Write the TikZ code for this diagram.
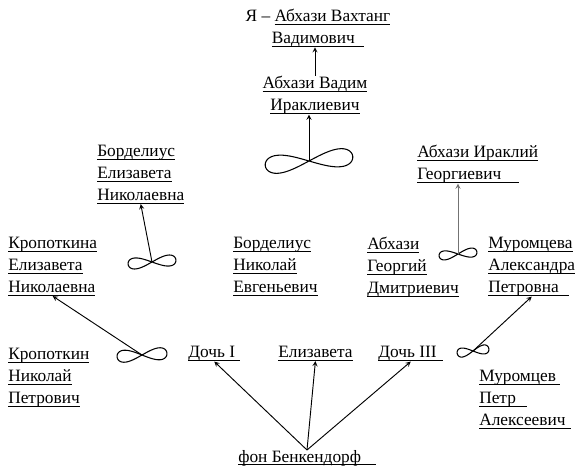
\documentclass[tikz,border=0pt]{standalone}
\usepackage{fontspec}
\setmainfont{Liberation Serif}
\usetikzlibrary{arrows, positioning, calc}
\newsavebox{\ulinebox}
\newcommand{\uln}[1]{\sbox{\ulinebox}{#1}\rlap{\rule[-2.4pt]{\wd\ulinebox}{0.9pt}}\usebox{\ulinebox}}

\begin{document}
\begin{tikzpicture}[
    x=0.75pt, y=-0.75pt,
    person/.style={anchor=north west, align=left, inner sep=0pt,
                   font=\fontsize{13}{16.5}\selectfont},
    arrow/.style={->, >=stealth, line width=0.7pt},
    wed/.style={line width=0.8pt}
]
    \useasboundingbox (0,0) rectangle (581,474);

    % Top
    \node[person, anchor=north, align=center] (vakhtang) at (318,9) {Я – \uln{Абхази Вахтанг}\\\uln{Вадимович\kern7pt}};
    \node[person, anchor=north, align=center] (vadim) at (315,76) {\uln{Абхази Вадим}\\\uln{Ираклиевич}};

    % Row 1
    \node[person] (bordeliza) at (97,145) {\uln{Борделиус}\\\uln{Елизавета}\\\uln{Николаевна}};
    \node[person] (irakliy) at (417,145) {\uln{Абхази Ираклий}\\\uln{Георгиевич\kern13pt}};

    % Row 2
    \node[person] (kropeliza) at (8,237) {\uln{Кропоткина}\\\uln{Елизавета}\\\uln{Николаевна}};
    \node[person] (bordnik) at (233,237) {\uln{Борделиус}\\\uln{Николай}\\\uln{Евгеньевич}};
    \node[person] (georgiy) at (367,237) {\uln{Абхази}\\\uln{Георгий}\\\uln{Дмитриевич}};
    \node[person] (muromtseva) at (488,237) {\uln{Муромцева}\\\uln{Александра}\\\uln{Петровна\kern8pt}};

    % Row 3
    \node[person] (kropnik) at (8,348) {\uln{Кропоткин}\\\uln{Николай}\\\uln{Петрович}};
    \node[person] (doch1) at (188,346) {\uln{Дочь I\kern4pt}};
    \node[person] (eliza) at (278,346) {\uln{Елизавета}};
    \node[person] (doch3) at (378,346) {\uln{Дочь III\kern5pt}};
    \node[person] (muromtsev) at (479,370) {\uln{Муромцев\kern3pt}\\\uln{Петр\kern8pt}\\\uln{Алексеевич\kern4pt}};

    % Bottom
    \node[person, anchor=north] (benk) at (307,450) {\uln{фон Бенкендорф\kern11pt}};

    % Marriages
    \coordinate (mtop) at (309,161);
    \coordinate (mbord) at (152,262);
    \coordinate (mgeo) at (458,254);
    \coordinate (mkrop) at (142,355);
    \coordinate (mmur) at (473,351);
    \foreach \m/\a/\b/\r in {mtop/44/18/6, mbord/24/11/5, mgeo/19/9/6, mkrop/25/12/4, mmur/16/9/8}
        \draw[wed, shift={(\m)}, rotate=\r] plot[domain=0:360, samples=72, smooth, variable=\t]
            ({\a*sin(\t)}, {\b*sin(\t)*cos(\t)});

    % Arrows
    \draw[arrow] (vadim.north) -- (vadim.north |- vakhtang.south);
    \draw[arrow] (mtop) -- (mtop |- vadim.south);
    \draw[arrow] (mbord) -- (bordeliza.south);
    \draw[arrow, black!55] (mgeo) -- (mgeo |- irakliy.south);
    \draw[arrow] (mkrop) -- (kropeliza.south);
    \draw[arrow] (mmur) -- (muromtseva.south);
    \draw[arrow] (benk.north) -- (doch1.south);
    \draw[arrow] (benk.north) -- (eliza.south);
    \draw[arrow] (benk.north) -- (doch3.south);
\end{tikzpicture}
\end{document}
